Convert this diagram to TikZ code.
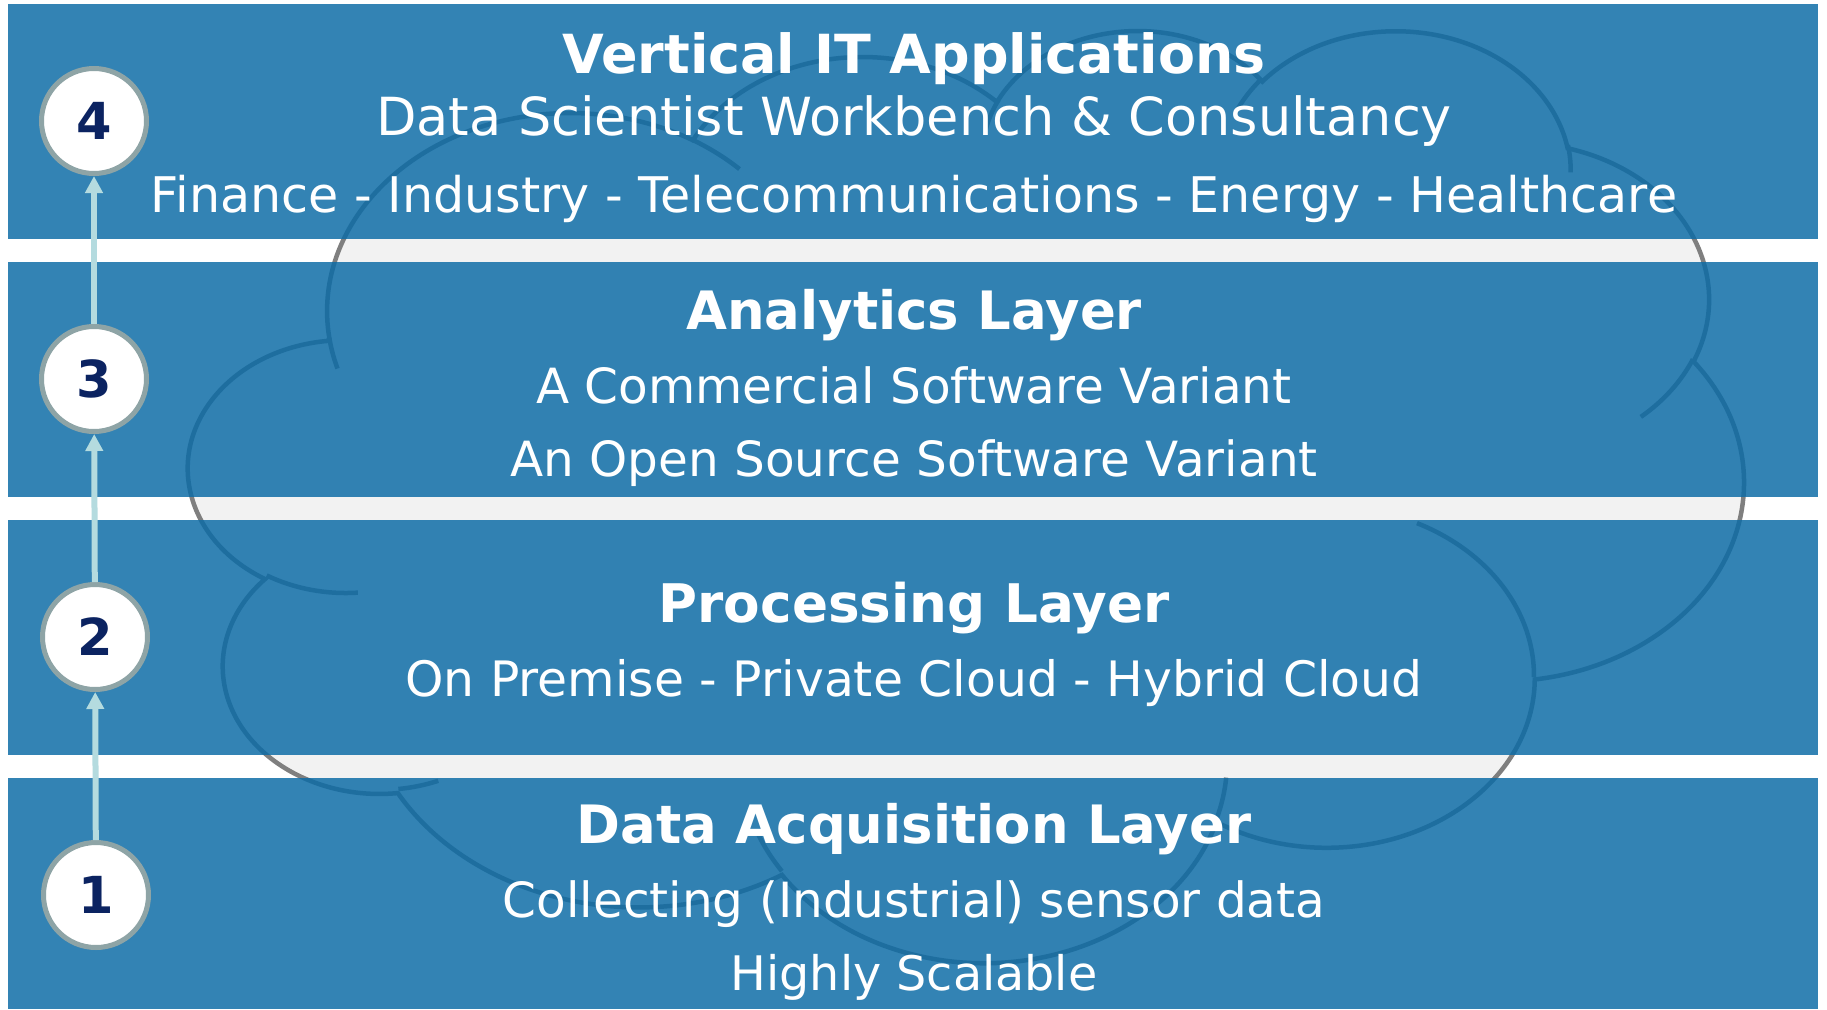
\documentclass[tikz,border=0pt]{standalone}
\usepackage{fontspec}
\setmainfont{DejaVu Sans}
\usetikzlibrary{arrows.meta}

\definecolor{bandblue}{HTML}{0B6BA6}
\definecolor{cloudfill}{HTML}{F2F2F2}
\definecolor{cloudline}{HTML}{7F7F7F}
\definecolor{ringgray}{HTML}{8EA4A6}
\definecolor{numnavy}{HTML}{0B2361}
\definecolor{arrowcyan}{HTML}{B4DBDF}

% Parametric start/end angles of an elliptic arc given by visual
% start angle #5 and sweep #6 (degrees) on radii #3, #4.
\newcommand\cloudangles[6]{%
  \pgfmathsetmacro#1{atan2((#3)*sin(#5),(#4)*cos(#5))}%
  \pgfmathsetmacro#2{atan2((#3)*sin((#5)+(#6)),(#4)*cos((#5)+(#6)))}%
  \pgfmathsetmacro#2{#2<#1 ? #2+360 : #2}%
}

\tikzset{
  cloudshape/.style={fill=cloudfill, draw=cloudline, line width=4.5pt},
  cloudcurl/.style={draw=cloudline, line width=4.5pt},
  band/.style={fill=bandblue, fill opacity=0.835},
  stepcircle/.style={circle, draw=ringgray, fill=white, line width=5pt,
    minimum size=105pt, inner sep=0pt, text=numnavy,
    font=\bfseries\fontsize{51}{61}\selectfont},
  uparrow/.style={draw=arrowcyan, line width=6pt,
    -{Triangle[width=17pt,length=17pt]}},
  headline/.style={anchor=base, inner sep=0pt, text=white,
    font=\bfseries\fontsize{52.9}{63}\selectfont},
  bodyline/.style={anchor=base, inner sep=0pt, text=white,
    font=\fontsize{48.5}{58}\selectfont},
  fontsz/.style={font=\fontsize{#1}{#1}\selectfont},
  boldsz/.style={font=\bfseries\fontsize{#1}{#1}\selectfont},
}

\begin{document}
\begin{tikzpicture}[x=1pt, y=-1pt]
\useasboundingbox (0,0) rectangle (1827,1009);
\fill[white] (0,0) rectangle (1827,1009);

% ---- cloud outline angles
\cloudangles{\angSa}{\angEa}{675.3}{919.0}{-190.4875}{123.7805}
\cloudangles{\angSb}{\angEb}{533.3}{726.7}{-144.1024}{89.9452}
\cloudangles{\angSc}{\angEc}{436.5}{594.5}{-145.8079}{99.7230}
\cloudangles{\angSd}{\angEd}{485.7}{659.5}{-130.9861}{117.2417}
\cloudangles{\angSe}{\angEe}{533.3}{727.3}{-78.7089}{109.0269}
\cloudangles{\angSf}{\angEf}{677.5}{922.0}{-46.2673}{130.2690}
\cloudangles{\angSg}{\angEg}{578.5}{786.7}{0.6250}{114.0333}
\cloudangles{\angSh}{\angEh}{675.2}{921.5}{22.4516}{115.1726}
\cloudangles{\angSi}{\angEi}{772.0}{1054.3}{66.2426}{75.7110}
\cloudangles{\angSj}{\angEj}{436.0}{591.8}{-274.9421}{146.7356}
\cloudangles{\angSk}{\angEk}{434.5}{594.5}{-246.8285}{152.5189}
% ---- inner curl angles
\cloudangles{\crlSa}{\crlEa}{434.5}{594.5}{86.7420}{26.4295}
\cloudangles{\crlSb}{\crlEb}{436.0}{591.8}{73.6105}{11.4475}
\cloudangles{\crlSc}{\crlEc}{675.2}{921.5}{137.6242}{14.0811}
\cloudangles{\crlSd}{\crlEd}{675.2}{921.5}{6.4533}{15.9984}
\cloudangles{\crlSe}{\crlEe}{578.5}{786.7}{-70.2924}{70.9174}
\cloudangles{\crlSf}{\crlEf}{533.3}{727.3}{30.3180}{27.7515}
\cloudangles{\crlSg}{\crlEg}{485.7}{659.5}{-13.7443}{14.8589}
\cloudangles{\crlSh}{\crlEh}{485.7}{659.5}{-149.1815}{18.1954}
\cloudangles{\crlSi}{\crlEi}{436.5}{594.5}{-163.4943}{17.6864}
\cloudangles{\crlSj}{\crlEj}{675.3}{919.0}{-66.7070}{12.3194}
\cloudangles{\crlSk}{\crlEk}{675.3}{919.0}{157.6544}{11.8582}

% ---- cloud behind the layers
\begin{scope}[shift={(189,28)}, x=0.3598pt, y=-0.2157pt]
\path[cloudshape] (390.0,1437.0)
  arc[start angle=\angSa, end angle=\angEa, x radius=675.3, y radius=919.0]
  arc[start angle=\angSb, end angle=\angEb, x radius=533.3, y radius=726.7]
  arc[start angle=\angSc, end angle=\angEc, x radius=436.5, y radius=594.5]
  arc[start angle=\angSd, end angle=\angEd, x radius=485.7, y radius=659.5]
  arc[start angle=\angSe, end angle=\angEe, x radius=533.3, y radius=727.3]
  arc[start angle=\angSf, end angle=\angEf, x radius=677.5, y radius=922.0]
  arc[start angle=\angSg, end angle=\angEg, x radius=578.5, y radius=786.7]
  arc[start angle=\angSh, end angle=\angEh, x radius=675.2, y radius=921.5]
  arc[start angle=\angSi, end angle=\angEi, x radius=772.0, y radius=1054.3]
  arc[start angle=\angSj, end angle=\angEj, x radius=436.0, y radius=591.8]
  arc[start angle=\angSk, end angle=\angEk, x radius=434.5, y radius=594.5]
  -- cycle;
\path[cloudcurl]
  (469.3,2617.7) arc[start angle=\crlSa, end angle=\crlEa, x radius=434.5, y radius=594.5]
  (692.8,3489.9) arc[start angle=\crlSb, end angle=\crlEb, x radius=436.0, y radius=591.8]
  (1647.8,3909.0) arc[start angle=\crlSc, end angle=\crlEc, x radius=675.2, y radius=921.5]
  (2882.7,3475.1) arc[start angle=\crlSd, end angle=\crlEd, x radius=675.2, y radius=921.5]
  (3412.9,2295.4) arc[start angle=\crlSe, end angle=\crlEe, x radius=578.5, y radius=786.7]
  (4179.8,1535.4) arc[start angle=\crlSf, end angle=\crlEf, x radius=533.3, y radius=727.3]
  (3832.4,542.6) arc[start angle=\crlSg, end angle=\crlEg, x radius=485.7, y radius=659.5]
  (2907.8,395.2) arc[start angle=\crlSh, end angle=\crlEh, x radius=485.7, y radius=659.5]
  (2214.1,472.0) arc[start angle=\crlSi, end angle=\crlEi, x radius=436.5, y radius=594.5]
  (1400.0,519.2) arc[start angle=\crlSj, end angle=\crlEj, x radius=675.3, y radius=919.0]
  (412.7,1578.9) arc[start angle=\crlSk, end angle=\crlEk, x radius=675.3, y radius=919.0];
\end{scope}

% ---- translucent layer bands
\fill[band] (8,4) rectangle (1818,239);
\fill[band] (8,262) rectangle (1818,497);
\fill[band] (8,520) rectangle (1818,755);
\fill[band] (8,778) rectangle (1818,1009);

% ---- layer texts
\node[headline, boldsz=53.9] (h4) at (914,73) {Vertical IT Applications};
\node[bodyline, fontsz=52.5] (l4a) at (914,135) {Data Scientist Workbench \& Consultancy};
\node[bodyline, fontsz=49.1] (l4b) at (914,212) {Finance - Industry - Telecommunications - Energy - Healthcare};

\node[headline] (h3) at (914,329) {Analytics Layer};
\node[bodyline] (l3a) at (914,403) {A Commercial Software Variant};
\node[bodyline] (l3b) at (914,476) {An Open Source Software Variant};

\node[headline, boldsz=53.2] (h2) at (914,622) {Processing Layer};
\node[bodyline, fontsz=48.8] (l2a) at (914,696) {On Premise - Private Cloud - Hybrid Cloud};

\node[headline] (h1) at (914,843) {Data Acquisition Layer};
\node[bodyline] (l1a) at (914,917) {Collecting (Industrial) sensor data};
\node[bodyline, fontsz=47.6] (l1b) at (914,990) {Highly Scalable};

% ---- numbered steps
\node[stepcircle] (n4) at (94,121) {4};
\node[stepcircle] (n3) at (94,379) {3};
\node[stepcircle] (n2) at (95,637) {2};
\node[stepcircle] (n1) at (96,895) {1};

\draw[uparrow] (n1) -- (n2);
\draw[uparrow] (n2) -- (n3);
\draw[uparrow] (n3) -- (n4);
\end{tikzpicture}
\end{document}
